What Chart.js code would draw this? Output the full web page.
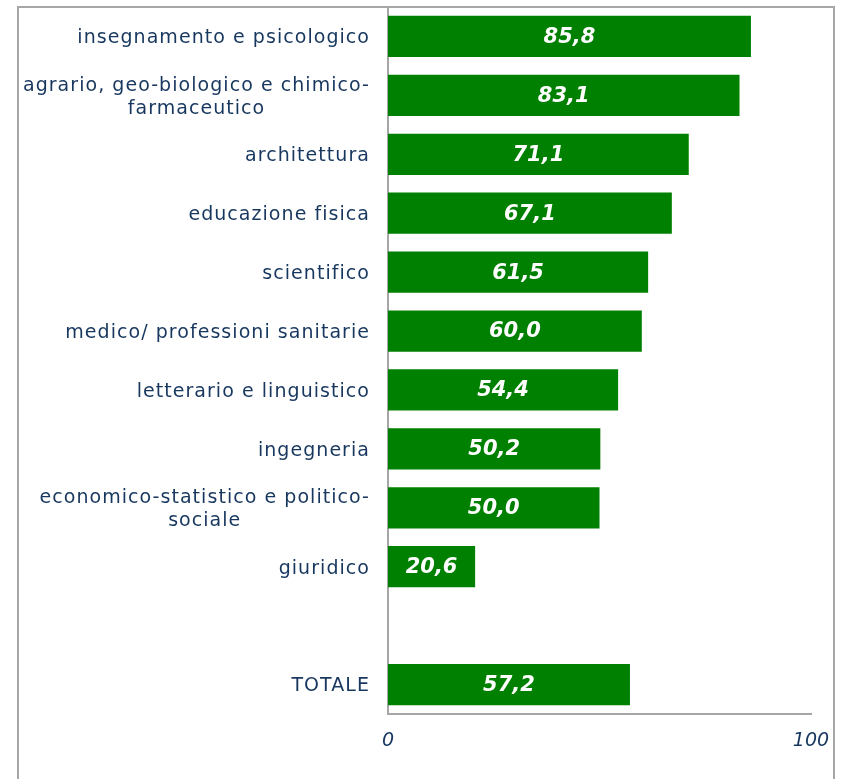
<!DOCTYPE html>
<html>
<head>
<meta charset="utf-8">
<script src="https://cdn.jsdelivr.net/npm/chart.js@4/dist/chart.umd.min.js"></script>
<style>
  body { margin: 0; background: #fff; overflow: hidden; }
  #frame { position: absolute; left: 17px; top: 6px; width: 814px; height: 820px; border: 2px solid #a6a6a6; }
  #chart { position: absolute; left: 0; top: 0; }
</style>
</head>
<body>
<div id="frame"></div>
<canvas id="chart" width="842" height="779"></canvas>
<script>
  // Categories (multi-line labels as arrays, blank slot before total)
  const categories = [
    ["insegnamento e psicologico"],
    ["agrario, geo-biologico e chimico-", "farmaceutico"],
    ["architettura"],
    ["educazione fisica"],
    ["scientifico"],
    ["medico/ professioni sanitarie"],
    ["letterario e linguistico"],
    ["ingegneria"],
    ["economico-statistico e politico-", "sociale"],
    ["giuridico"],
    [""],
    ["TOTALE"],
  ];
  const values = [85.8, 83.1, 71.1, 67.1, 61.5, 60.0, 54.4, 50.2, 50.0, 20.6, null, 57.2];
  const xTicks = [0, 100];

  const textColor = "#17375e";
  const fontFamily = "'DejaVu Sans', Verdana, sans-serif";

  // Category labels drawn with the y scale positions (right aligned, wrapped lines centred)
  const yLabels = {
    id: "yLabels",
    afterDraw(chart) {
      const ctx = chart.ctx;
      const yScale = chart.scales.y;
      const rightX = chart.chartArea.left - 19;
      const lineH = 23;
      ctx.save();
      ctx.fillStyle = textColor;
      ctx.font = "19px " + fontFamily;
      ctx.letterSpacing = "1.05px";
      ctx.textBaseline = "middle";
      ctx.textAlign = "left";
      categories.forEach((lines, i) => {
        const y = yScale.getPixelForValue(i) + 2;
        const widths = lines.map((l) => ctx.measureText(l).width - 1);
        const maxW = Math.max(...widths);
        lines.forEach((l, j) => {
          const ly = y + (j - (lines.length - 1) / 2) * lineH;
          ctx.fillText(l, rightX - maxW / 2 - widths[j] / 2, ly);
        });
      });
      ctx.restore();
    },
  };

  // Value labels inside bars
  const barValues = {
    id: "barValues",
    afterDatasetsDraw(chart) {
      const ctx = chart.ctx;
      const meta = chart.getDatasetMeta(0);
      ctx.save();
      ctx.fillStyle = "#ffffff";
      ctx.font = "italic bold 21px " + fontFamily;
      ctx.textAlign = "center";
      ctx.textBaseline = "middle";
      meta.data.forEach((bar, i) => {
        if (values[i] == null) return;
        const txt = values[i].toFixed(1).replace(".", ",");
        const cx = (bar.x + bar.base) / 2;
        ctx.fillText(txt, cx, bar.y + 1);
      });
      ctx.restore();
    },
  };

  new Chart(document.getElementById("chart"), {
    type: "bar",
    data: {
      labels: categories.map((c) => c.join(" ")),
      datasets: [
        {
          data: values,
          backgroundColor: "#008000",
          barPercentage: 0.7,
          categoryPercentage: 1,
        },
      ],
    },
    options: {
      indexAxis: "y",
      responsive: false,
      animation: false,
      devicePixelRatio: 1,
      layout: { padding: { top: 7, right: 31, bottom: 0, left: 0 } },
      plugins: { legend: { display: false }, tooltip: { enabled: false } },
      scales: {
        x: {
          min: 0,
          max: 100,
          afterBuildTicks(scale) {
            scale.ticks = xTicks.map((v) => ({ value: v }));
          },
          afterFit(scale) {
            scale.height = 65;
            scale.paddingLeft = 0;
            scale.paddingRight = 0;
          },
          grid: { display: false, drawTicks: false },
          border: { display: true, color: "#a6a6a6", width: 2 },
          ticks: {
            padding: 16,
            color: textColor,
            font: { family: fontFamily, size: 19, style: "italic" },
            maxRotation: 0,
          },
        },
        y: {
          afterFit(scale) {
            scale.width = 388;
          },
          grid: { display: false, drawTicks: false },
          border: { display: true, color: "#a6a6a6", width: 2 },
          ticks: { display: false },
        },
      },
    },
    plugins: [yLabels, barValues],
  });
</script>
</body>
</html>
